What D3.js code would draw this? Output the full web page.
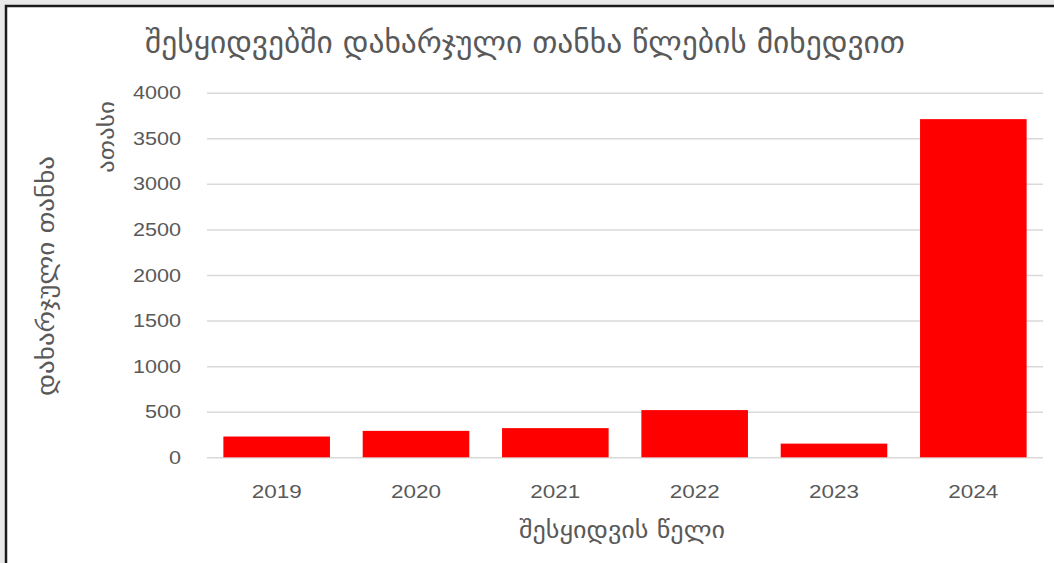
<!DOCTYPE html>
<html>
<head>
<meta charset="utf-8">
<script src="https://cdn.jsdelivr.net/npm/d3@7"></script>
<style>
  html, body { margin: 0; padding: 0; background: #e8e8e8; }
  svg { display: block; }
</style>
</head>
<body>
<svg id="chart" width="1054" height="563"></svg>
<script>
const years = ["2019", "2020", "2021", "2022", "2023", "2024"];
const spent = [228, 290, 320, 518, 150, 3710];
const yTicks = [0, 500, 1000, 1500, 2000, 2500, 3000, 3500, 4000];
const titleText = "შესყიდვებში დახარჯული თანხა წლების მიხედვით";
const yTitleText = "დახარჯული თანხა";
const unitText = "ათასი";
const xTitleText = "შესყიდვის წელი";

const svg = d3.select("#chart");
const W = 1054, H = 563;
const geoFont = "'DejaVu Sans', 'Noto Sans', sans-serif";
const numFont = "'Liberation Sans', Arial, sans-serif";
const textColor = "#595959";

// background and frame
svg.append("rect").attr("x", 0).attr("y", 0).attr("width", W).attr("height", H).attr("fill", "#e8e8e8");
svg.append("rect").attr("x", 5).attr("y", 5).attr("width", W - 5).attr("height", H - 5).attr("fill", "#ffffff");
svg.append("path").attr("d", `M6,${H} V6 H${W}`).attr("fill", "none").attr("stroke", "#1a1a1a").attr("stroke-width", 2.5);

const plot = { left: 207, right: 1043, top: 92.7, bottom: 457.3 };

const x = d3.scaleBand().domain(years).range([plot.left, plot.right]).paddingInner(0.235).paddingOuter(0.1175);
const y = d3.scaleLinear().domain([0, 4000]).range([plot.bottom, plot.top]);

// gridlines
const grid = svg.append("g").attr("transform", `translate(${plot.left},0)`)
  .call(d3.axisLeft(y).tickValues(yTicks).tickSize(-(plot.right - plot.left)).tickFormat(""));
grid.select(".domain").remove();
grid.selectAll("line").attr("stroke", "#d9d9d9").attr("stroke-width", 1.5);

// y axis labels
const yAxis = svg.append("g").attr("transform", `translate(${plot.left},0)`)
  .call(d3.axisLeft(y).tickValues(yTicks).tickSize(0).tickPadding(26).tickFormat(d3.format("d")));
yAxis.select(".domain").remove();
yAxis.selectAll("text").attr("font-family", numFont).attr("font-size", 19).attr("fill", textColor)
  .each(function(d) { d3.select(this).attr("textLength", String(d).length * 12).attr("lengthAdjust", "spacingAndGlyphs"); });

// bars
svg.append("g").selectAll("rect").data(years).join("rect")
  .attr("x", d => x(d))
  .attr("y", (d, i) => y(spent[i]))
  .attr("width", x.bandwidth())
  .attr("height", (d, i) => y(0) - y(spent[i]))
  .attr("fill", "#ff0000");

// x axis labels
const xAxis = svg.append("g").attr("transform", `translate(0,${plot.bottom})`)
  .call(d3.axisBottom(x).tickSize(0).tickPadding(27));
xAxis.select(".domain").remove();
xAxis.selectAll("text").attr("font-family", numFont).attr("font-size", 19).attr("fill", textColor)
  .attr("textLength", 50).attr("lengthAdjust", "spacingAndGlyphs");

// title
svg.append("text").attr("x", 525).attr("y", 53).attr("text-anchor", "middle")
  .attr("font-family", geoFont).attr("font-size", 31).attr("fill", textColor)
  .attr("textLength", 760).attr("lengthAdjust", "spacingAndGlyphs")
  .text(titleText);

// y title
svg.append("text").attr("transform", "translate(54,276) rotate(-90)").attr("text-anchor", "middle")
  .attr("font-family", geoFont).attr("font-size", 24).attr("fill", textColor)
  .attr("textLength", 240).attr("lengthAdjust", "spacingAndGlyphs")
  .text(yTitleText);

// unit label
svg.append("text").attr("transform", "translate(114,137) rotate(-90)").attr("text-anchor", "middle")
  .attr("font-family", geoFont).attr("font-size", 21).attr("fill", textColor)
  .attr("textLength", 72).attr("lengthAdjust", "spacingAndGlyphs")
  .text(unitText);

// x title
svg.append("text").attr("x", 622).attr("y", 538).attr("text-anchor", "middle")
  .attr("font-family", geoFont).attr("font-size", 24).attr("fill", textColor)
  .attr("textLength", 206).attr("lengthAdjust", "spacingAndGlyphs")
  .text(xTitleText);
</script>
</body>
</html>
